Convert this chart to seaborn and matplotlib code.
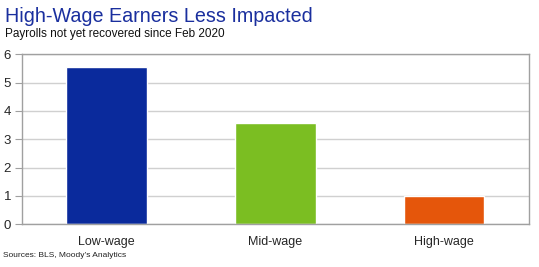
import matplotlib
matplotlib.use("Agg")
import matplotlib.pyplot as plt
import seaborn as sns
import pandas as pd

categories = ["Low-wage", "Mid-wage", "High-wage"]
values = [5.54, 3.59, 1.0]
colors = ["#0A2A9C", "#7BBE22", "#E5560B"]
yticks = [0, 1, 2, 3, 4, 5, 6]

sns.set_style("white")
plt.rcParams["font.family"] = ["Liberation Sans", "DejaVu Sans"]

df = pd.DataFrame({"cat": categories, "val": values})

fig = plt.figure(figsize=(5.39, 2.67), dpi=100)
ax = fig.add_axes([0.041, 0.16, 0.940, 0.637])
sns.barplot(data=df, x="cat", y="val", hue="cat", palette=colors, width=0.475,
            legend=False, ax=ax, saturation=1)
ax.set_ylim(0, 6)
ax.set_yticks(yticks)
ax.set_xlim(-0.5, 2.5)
ax.yaxis.grid(True, color="#D0D0D0", linewidth=1)
ax.set_axisbelow(True)
ax.set_xlabel("")
ax.set_ylabel("")
for s in ax.spines.values():
    s.set_visible(True)
    s.set_color("#A0A0A0")
    s.set_linewidth(1)
ax.tick_params(axis="y", left=True, length=5, color="#A0A0A0", labelsize=9.5, pad=3)
ax.tick_params(axis="x", bottom=False, labelsize=9, pad=5)

fig.text(0.009, 0.94, "High-Wage Earners Less Impacted", fontsize=14.2, color="#1A2F9E", va="center")
fig.text(0.009, 0.872, "Payrolls not yet recovered since Feb 2020", fontsize=8.5, color="#111111", va="center")
fig.text(0.005, 0.042, "Sources: BLS, Moody\u2019s Analytics", fontsize=6.0, color="#222222", va="center")

fig.savefig("out.png", dpi=100)
